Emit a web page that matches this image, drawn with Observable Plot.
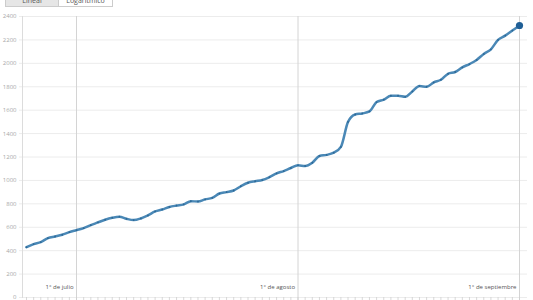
<!DOCTYPE html>
<html><head><meta charset="utf-8">
<script src="https://cdn.jsdelivr.net/npm/d3@7"></script>
<script src="https://cdn.jsdelivr.net/npm/@observablehq/plot@0.6"></script>
<style>
body{margin:0;background:#fff;font-family:"Open Sans",sans-serif;overflow:hidden}
#wrap{position:relative;width:533px;height:300px}
.btn{position:absolute;top:-10px;height:15px;font-size:7px;line-height:19px;text-align:center;border:1px solid #ccc;color:#555;box-sizing:content-box;overflow:hidden}
</style></head>
<body><div id="wrap">
<div class="btn" style="left:5px;width:52px;background:#e6e6e6">Lineal</div>
<div class="btn" style="left:58px;width:53px;background:#fff">Logarítmico</div>
</div>
<script>
const startDate = "2020-06-24";
const values = [430,456,473,507,521,536,558,575,592,618,641,664,681,690,672,661,675,701,735,752,
773,785,795,822,820,838,851,888,900,914,950,980,993,1003,1028,1060,1080,1106,1129,1123,
1151,1209,1218,1237,1286,1500,1563,1572,1589,1669,1690,1723,1723,1714,1760,1806,1800,1837,1860,1911,
1926,1966,1994,2029,2080,2120,2200,2237,2280,2323];
const monthDates = ["2020-07-01","2020-08-01","2020-09-01"];
const monthLabels = ["1° de julio","1° de agosto","1° de septiembre"];
const yTicks = [0,200,400,600,800,1000,1200,1400,1600,1800,2000,2200,2400];

const t0 = new Date(startDate + "T00:00:00Z");
const data = values.map((v,i)=>({date:new Date(+t0 + i*864e5), value:v}));
const months = monthDates.map((d,i)=>({date:new Date(d+"T00:00:00Z"), label:monthLabels[i]}));
const days = data.map(d=>d.date);
const last = data[data.length-1];

const chart = Plot.plot({
  width:533, height:300,
  marginTop:16, marginBottom:3, marginLeft:22, marginRight:13,
  style:{fontFamily:"Open Sans, sans-serif", background:"transparent"},
  x:{type:"utc", domain:[data[0].date, last.date], insetLeft:4, insetRight:1, axis:null},
  y:{type:"linear", domain:[0,2400], axis:null},
  marks:[
    Plot.ruleY(yTicks, {y:d=>d, stroke:"#ececec", strokeWidth:1, insetLeft:-3, insetRight:-7}),
    Plot.frame({anchor:"left", stroke:"#dcdcdc"}),
    Plot.ruleX(months, {x:"date", stroke:"#d4d4d4", strokeWidth:1, insetBottom:-3}),
    Plot.ruleX(days, {x:d=>d, y1:0, y2:0, insetBottom:-3, stroke:"#cfcfcf", strokeWidth:0.8}),
    Plot.text(yTicks, {x:data[0].date, y:d=>d, text:d=>String(d), textAnchor:"end", dx:-10, fontSize:6, fill:"#a8a8a8"}),
    Plot.text(months, {x:"date", text:"label", frameAnchor:"bottom", dy:-9, dx:-3, textAnchor:"end", fontSize:6, fill:"#555"}),
    Plot.line(data, {x:"date", y:"value", curve:"monotone-x", stroke:"#4a88b6", strokeWidth:2.5}),
    Plot.dot(data, {x:"date", y:"value", r:0.9, fill:"#2c6896", stroke:null}),
    Plot.dot([last], {x:"date", y:"value", r:3.6, fill:"#1f5f96", stroke:null})
  ]
});
chart.style.position = "absolute";
chart.style.left = "0"; chart.style.top = "0";
document.getElementById("wrap").prepend(chart);
</script>
</body></html>
